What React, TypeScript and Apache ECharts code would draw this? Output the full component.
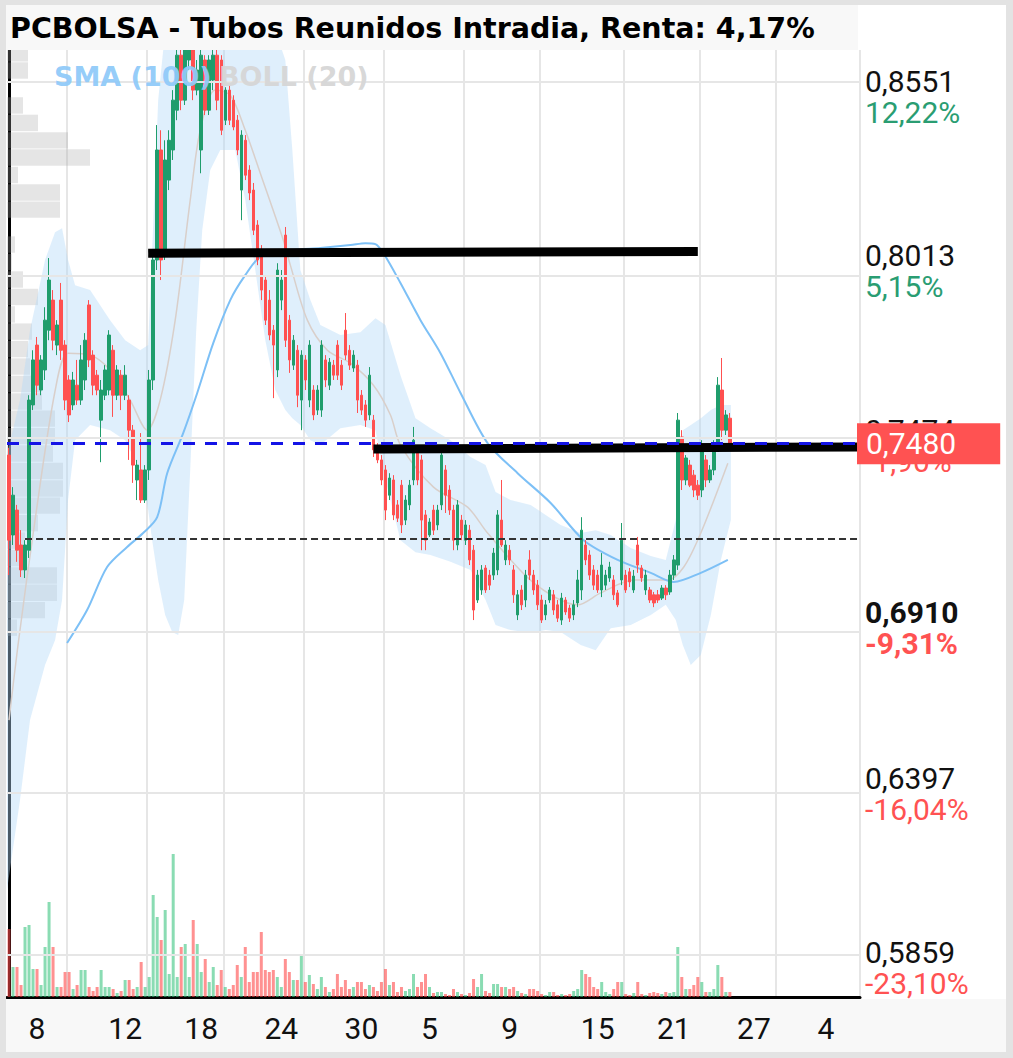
import React, { useEffect, useRef } from 'react';
import * as echarts from 'echarts';

const TITLE = 'PCBOLSA - Tubos Reunidos Intradia, Renta: 4,17%';
const LEGEND_SMA = 'SMA (100)';
const LEGEND_BOLL = 'BOLL (20)';

const SLOT_COUNT = 213;
const xLabels = ['8', '12', '18', '24', '30', '5', '9', '15', '21', '27', '4'];
const xLabelIdx = [7, 29, 48, 68, 88, 105, 125, 147, 166, 186, 204];
const xGridIdx = [15, 35, 54, 74, 94, 114, 133, 154, 173, 192];

const opens = [
  0.7445, 0.7198, 0.7275, 0.7167, 0.7090, 0.7151, 0.7600, 0.7785, 0.7646, 0.7708,
  0.7831, 0.7924, 0.7785, 0.7924, 0.7785, 0.7677, 0.7600, 0.7661, 0.7615, 0.7677,
  0.7909, 0.7754, 0.7692, 0.7553, 0.7630, 0.7646, 0.7769, 0.7630, 0.7692, 0.7630,
  0.7615, 0.7522, 0.7368, 0.7399, 0.7306, 0.7399, 0.7677, 0.8048, 0.8388, 0.8078,
  0.8295, 0.8388, 0.8511, 0.8681, 0.8542, 0.8666, 0.8697, 0.8573, 0.8388, 0.8666,
  0.8511, 0.8604, 0.8681, 0.8666, 0.8480, 0.8573, 0.8542, 0.8480, 0.8264, 0.8418,
  0.8326, 0.8264, 0.8156, 0.8078, 0.7986, 0.7924, 0.7831, 0.7708, 0.7924, 0.8125,
  0.7862, 0.7723, 0.7769, 0.7615, 0.7739, 0.7615, 0.7646, 0.7584, 0.7584, 0.7739,
  0.7661, 0.7723, 0.7785, 0.7723, 0.7831, 0.7769, 0.7714, 0.7723, 0.7630, 0.7600,
  0.7569, 0.7553, 0.7470, 0.7430, 0.7399, 0.7321, 0.7368, 0.7291, 0.7352, 0.7244,
  0.7291, 0.7368, 0.7461, 0.7430, 0.7260, 0.7198, 0.7275, 0.7229, 0.7291, 0.7399,
  0.7337, 0.7275, 0.7167, 0.7244, 0.7182, 0.7213, 0.7151, 0.6997, 0.7028, 0.7096,
  0.7074, 0.7074, 0.7090, 0.7244, 0.7121, 0.7151, 0.7090, 0.6951, 0.7028, 0.6997,
  0.7121, 0.7074, 0.7043, 0.6997, 0.6951, 0.6997, 0.7013, 0.6982, 0.6935, 0.6997,
  0.6972, 0.6951, 0.6988, 0.7028, 0.7167, 0.7136, 0.7090, 0.7074, 0.7028, 0.7043,
  0.7065, 0.7059, 0.7019, 0.7059, 0.7074, 0.7084, 0.7028, 0.7167, 0.7096, 0.7028,
  0.7028, 0.7013, 0.7013, 0.7003, 0.7034, 0.7022, 0.7074, 0.7105, 0.7501, 0.7368,
  0.7414, 0.7383, 0.7352, 0.7337, 0.7430, 0.7368, 0.7399, 0.7476, 0.7646, 0.7522,
  0.7559,
];
const closes = [
  0.7182, 0.7321, 0.7151, 0.7090, 0.7167, 0.7615, 0.7739, 0.7661, 0.7739, 0.7862,
  0.7986, 0.7800, 0.7847, 0.7769, 0.7615, 0.7569, 0.7677, 0.7615, 0.7739, 0.7800,
  0.7739, 0.7661, 0.7646, 0.7646, 0.7708, 0.7816, 0.7630, 0.7708, 0.7630, 0.7692,
  0.7522, 0.7414, 0.7414, 0.7306, 0.7399, 0.7677, 0.8048, 0.8388, 0.8048, 0.8357,
  0.8418, 0.8542, 0.8681, 0.8542, 0.8697, 0.8697, 0.8573, 0.8635, 0.8681, 0.8511,
  0.8666, 0.8681, 0.8542, 0.8449, 0.8573, 0.8480, 0.8459, 0.8388, 0.8434, 0.8310,
  0.8255, 0.8140, 0.8048, 0.7955, 0.7862, 0.7816, 0.7785, 0.8017, 0.7986, 0.7800,
  0.7739, 0.7800, 0.7630, 0.7754, 0.7677, 0.7785, 0.7569, 0.7646, 0.7785, 0.7677,
  0.7732, 0.7692, 0.7692, 0.7661, 0.7754, 0.7723, 0.7754, 0.7615, 0.7584, 0.7553,
  0.7692, 0.7461, 0.7430, 0.7368, 0.7275, 0.7374, 0.7260, 0.7250, 0.7229, 0.7306,
  0.7352, 0.7491, 0.7368, 0.7244, 0.7182, 0.7238, 0.7213, 0.7275, 0.7445, 0.7321,
  0.7275, 0.7182, 0.7291, 0.7198, 0.7229, 0.7121, 0.6966, 0.7074, 0.7090, 0.7028,
  0.7043, 0.7142, 0.7260, 0.7167, 0.7167, 0.7121, 0.7013, 0.7013, 0.6982, 0.7074,
  0.7074, 0.7028, 0.6982, 0.6935, 0.6982, 0.7028, 0.6966, 0.6941, 0.7003, 0.6960,
  0.6941, 0.6982, 0.7059, 0.7213, 0.7121, 0.7074, 0.7043, 0.7028, 0.7105, 0.7074,
  0.7099, 0.7013, 0.6982, 0.7182, 0.7028, 0.7053, 0.7071, 0.7105, 0.7065, 0.7074,
  0.6997, 0.6988, 0.6997, 0.7034, 0.7013, 0.7074, 0.7121, 0.7553, 0.7368, 0.7436,
  0.7352, 0.7337, 0.7321, 0.7461, 0.7368, 0.7399, 0.7476, 0.7661, 0.7522, 0.7569,
  0.7480,
];
const lows = [
  0.7074, 0.7167, 0.7115, 0.7068, 0.7065, 0.7127, 0.7584, 0.7630, 0.7630, 0.7677,
  0.7800, 0.7769, 0.7754, 0.7739, 0.7584, 0.7547, 0.7584, 0.7600, 0.7600, 0.7646,
  0.7717, 0.7630, 0.7630, 0.7423, 0.7615, 0.7630, 0.7563, 0.7615, 0.7584, 0.7615,
  0.7430, 0.7359, 0.7306, 0.7297, 0.7297, 0.7368, 0.7646, 0.8017, 0.7986, 0.8048,
  0.8264, 0.8357, 0.8480, 0.8511, 0.8527, 0.8635, 0.8542, 0.8557, 0.8316, 0.8496,
  0.8496, 0.8573, 0.8511, 0.8434, 0.8465, 0.8465, 0.8449, 0.8372, 0.8171, 0.8295,
  0.8233, 0.8125, 0.8032, 0.7924, 0.7847, 0.7800, 0.7621, 0.7686, 0.7893, 0.7779,
  0.7699, 0.7708, 0.7593, 0.7522, 0.7646, 0.7593, 0.7553, 0.7569, 0.7563, 0.7655,
  0.7646, 0.7677, 0.7677, 0.7646, 0.7739, 0.7708, 0.7702, 0.7575, 0.7569, 0.7532,
  0.7553, 0.7439, 0.7420, 0.7352, 0.7244, 0.7306, 0.7244, 0.7238, 0.7204, 0.7229,
  0.7275, 0.7352, 0.7352, 0.7151, 0.7151, 0.7192, 0.7198, 0.7213, 0.7275, 0.7266,
  0.7260, 0.7151, 0.7151, 0.7182, 0.7167, 0.7105, 0.6935, 0.6988, 0.7013, 0.7019,
  0.7028, 0.7059, 0.7074, 0.7161, 0.7105, 0.7105, 0.6988, 0.6935, 0.6966, 0.6975,
  0.7059, 0.7013, 0.6966, 0.6926, 0.6935, 0.6988, 0.6951, 0.6929, 0.6920, 0.6951,
  0.6929, 0.6935, 0.6975, 0.6997, 0.7105, 0.7059, 0.7028, 0.7019, 0.7006, 0.7028,
  0.7053, 0.6997, 0.6975, 0.7043, 0.7019, 0.7037, 0.7019, 0.7081, 0.7053, 0.7013,
  0.6988, 0.6975, 0.6988, 0.6997, 0.6997, 0.7013, 0.7059, 0.7090, 0.7337, 0.7352,
  0.7346, 0.7315, 0.7306, 0.7315, 0.7346, 0.7359, 0.7383, 0.7461, 0.7491, 0.7507,
  0.7476,
];
const highs = [
  0.7467, 0.7346, 0.7291, 0.7213, 0.7182, 0.7630, 0.7769, 0.7810, 0.7754, 0.7902,
  0.8054, 0.7955, 0.7862, 0.7977, 0.7800, 0.7692, 0.7702, 0.7739, 0.7785, 0.7822,
  0.7924, 0.7769, 0.7708, 0.7677, 0.7723, 0.7831, 0.7785, 0.7723, 0.7708, 0.7723,
  0.7630, 0.7538, 0.7430, 0.7513, 0.7414, 0.7708, 0.8078, 0.8465, 0.8449, 0.8418,
  0.8449, 0.8573, 0.8697, 0.8697, 0.8712, 0.8727, 0.8712, 0.8666, 0.8697, 0.8681,
  0.8681, 0.8712, 0.8697, 0.8681, 0.8582, 0.8588, 0.8557, 0.8496, 0.8449, 0.8434,
  0.8341, 0.8286, 0.8171, 0.8094, 0.8001, 0.7955, 0.7847, 0.8038, 0.8017, 0.8150,
  0.7878, 0.7816, 0.7785, 0.7769, 0.7754, 0.7800, 0.7661, 0.7661, 0.7800, 0.7754,
  0.7745, 0.7739, 0.7800, 0.7739, 0.7884, 0.7785, 0.7769, 0.7739, 0.7646, 0.7615,
  0.7717, 0.7569, 0.7482, 0.7445, 0.7414, 0.7389, 0.7383, 0.7306, 0.7368, 0.7321,
  0.7368, 0.7532, 0.7476, 0.7445, 0.7275, 0.7250, 0.7291, 0.7291, 0.7461, 0.7414,
  0.7352, 0.7291, 0.7306, 0.7260, 0.7244, 0.7229, 0.7167, 0.7090, 0.7105, 0.7105,
  0.7090, 0.7158, 0.7275, 0.7368, 0.7182, 0.7167, 0.7105, 0.7028, 0.7043, 0.7090,
  0.7151, 0.7090, 0.7059, 0.7013, 0.6997, 0.7037, 0.7028, 0.6997, 0.7019, 0.7006,
  0.6982, 0.6997, 0.7090, 0.7253, 0.7182, 0.7151, 0.7105, 0.7090, 0.7142, 0.7090,
  0.7115, 0.7074, 0.7028, 0.7235, 0.7090, 0.7096, 0.7090, 0.7192, 0.7105, 0.7090,
  0.7037, 0.7022, 0.7028, 0.7043, 0.7043, 0.7090, 0.7136, 0.7575, 0.7522, 0.7445,
  0.7430, 0.7399, 0.7368, 0.7491, 0.7445, 0.7414, 0.7491, 0.7686, 0.7745, 0.7584,
  0.7575,
];
const volumes = [
  68, 30, 30, 12, 70, 72, 28, 28, 12, 50, 95, 50, 10, 10, 25, 25, 8, 12, 27, 27,
  10, 6, 10, 27, 10, 10, 8, 4, 6, 17, 17, 8, 10, 35, 10, 20, 102, 80, 57, 87,
  23, 143, 20, 50, 53, 20, 77, 53, 25, 38, 15, 30, 12, 27, 10, 8, 12, 32, 20, 50,
  15, 25, 25, 65, 27, 25, 27, 20, 10, 38, 25, 17, 17, 42, 15, 22, 13, 8, 20, 10,
  5, 8, 23, 10, 17, 8, 10, 15, 15, 8, 12, 10, 6, 15, 28, 12, 15, 5, 10, 6,
  8, 23, 10, 15, 23, 10, 4, 5, 5, 3, 2, 8, 5, 3, 2, 4, 18, 10, 23, 6,
  4, 13, 13, 10, 10, 8, 10, 6, 4, 3, 8, 8, 6, 3, 2, 5, 5, 2, 3, 2,
  3, 6, 8, 27, 23, 20, 10, 8, 15, 5, 3, 8, 15, 15, 3, 2, 4, 15, 3, 2,
  4, 5, 4, 3, 5, 4, 5, 50, 20, 8, 8, 12, 20, 15, 5, 5, 8, 32, 20, 5,
  5,
];

const smaIdx = [14.5, 19.5, 24.5, 29.5, 33.5, 37, 39.5, 43.5, 47, 51, 55.25, 59, 62.75, 70.25, 77.75, 85.25, 89, 91.5, 93.5, 97.75, 102.75, 107.75, 112.75, 119.5, 127, 135.25, 143.5, 152, 160.25, 166, 172.75, 179.5];
const smaVal = [0.6864, 0.6966, 0.7099, 0.7161, 0.7204, 0.7253, 0.7389, 0.7513, 0.7637, 0.7791, 0.7924, 0.8001, 0.8057, 0.8078, 0.8085, 0.8094, 0.8100, 0.8097, 0.8069, 0.7977, 0.7862, 0.7760, 0.7637, 0.7482, 0.7389, 0.7297, 0.7182, 0.7121, 0.7081, 0.7053, 0.7081, 0.7121];

const midIdx = [0, 2.25, 6.5, 11.5, 14.75, 20.25, 25.25, 30.25, 34.5, 37.75, 41.5, 45.25, 47.75, 51.5, 55.25, 59, 62.75, 68.5, 70.25, 74.5, 79.5, 85.25, 91, 95.25, 97.75, 106, 114.5, 119.5, 131, 142, 147.75, 156, 164.5, 168.5, 172.75, 179.5];
const midVal = [0.6626, 0.6858, 0.7244, 0.7643, 0.7760, 0.7754, 0.7708, 0.7615, 0.7522, 0.7615, 0.7862, 0.8233, 0.8449, 0.8573, 0.8557, 0.8449, 0.8316, 0.8109, 0.8032, 0.7862, 0.7769, 0.7729, 0.7661, 0.7569, 0.7476, 0.7346, 0.7284, 0.7204, 0.7050, 0.6982, 0.7019, 0.7059, 0.7059, 0.7099, 0.7204, 0.7420];

const bandIdx = [-0.5, 2.75, 5.25, 9, 11.5, 13.25, 14.75, 16.5, 20.25, 25.25, 29, 32.75, 34.75, 35.75, 37.25, 39, 40.75, 42.25, 43.75, 45.25, 46.75, 48.25, 50.25, 52.75, 56.5, 59, 61.5, 64, 66.5, 69, 70.75, 72.75, 75.25, 77.75, 82.75, 87.75, 91.5, 94, 97.75, 101.5, 105.25, 110.25, 115.25, 119, 121.5, 125.25, 130.25, 134, 137.75, 142.75, 146.5, 150.25, 155.25, 160.25, 164, 166.5, 168.25, 170.25, 172.75, 175.25, 177.75, 180.25];
const bandUpper = [0.7445, 0.7615, 0.7831, 0.8048, 0.8134, 0.8146, 0.8048, 0.7970, 0.7955, 0.7862, 0.7800, 0.7769, 0.7785, 0.8078, 0.8542, 0.8758, 0.8758, 0.8758, 0.8758, 0.8758, 0.8758, 0.8758, 0.8758, 0.8758, 0.8758, 0.8758, 0.8758, 0.8758, 0.8758, 0.8666, 0.8388, 0.8017, 0.7924, 0.7847, 0.7816, 0.7825, 0.7868, 0.7847, 0.7692, 0.7559, 0.7528, 0.7491, 0.7439, 0.7414, 0.7331, 0.7306, 0.7291, 0.7260, 0.7229, 0.7204, 0.7213, 0.7198, 0.7158, 0.7133, 0.7121, 0.7244, 0.7522, 0.7538, 0.7559, 0.7584, 0.7600, 0.7600];
const bandLower = [0.6101, 0.6379, 0.6626, 0.6796, 0.6873, 0.6997, 0.7306, 0.7491, 0.7538, 0.7522, 0.7491, 0.7399, 0.7275, 0.7182, 0.7059, 0.6951, 0.6898, 0.6889, 0.6997, 0.7399, 0.7831, 0.8140, 0.8326, 0.8388, 0.8388, 0.8233, 0.8017, 0.7800, 0.7646, 0.7584, 0.7559, 0.7538, 0.7491, 0.7476, 0.7528, 0.7538, 0.7522, 0.7368, 0.7182, 0.7145, 0.7136, 0.7115, 0.7090, 0.6997, 0.6920, 0.6904, 0.6895, 0.6904, 0.6898, 0.6858, 0.6842, 0.6910, 0.6920, 0.6951, 0.6982, 0.6935, 0.6858, 0.6796, 0.6827, 0.6951, 0.7121, 0.7244];

const PROFILE_STEP = 0.00538;
const profileTop = [0.8712, 0.8659, 0.8605, 0.8551, 0.8497, 0.8443, 0.8390, 0.8336, 0.8282, 0.8229, 0.8175, 0.8121, 0.8067, 0.8013, 0.7959, 0.7905, 0.7852, 0.7798, 0.7744, 0.7690, 0.7636, 0.7583, 0.7529, 0.7475, 0.7421, 0.7367, 0.7314, 0.7260, 0.7206, 0.7152, 0.7098, 0.7045, 0.6991, 0.6937];
const profileVol = [21, 21, 0, 16, 31, 61, 83, 11, 53, 53, 0, 8, 5, 16, 31, 8, 25, 21, 23, 35, 35, 48, 48, 46, 56, 56, 53, 31, 18, 18, 50, 50, 38, 10];

const priceLevels = [0.8551, 0.8013, 0.7474, 0.6910, 0.6397, 0.5859];
const priceLevelText = ['0,8551', '0,8013', '0,7474', '0,6910', '0,6397', '0,5859'];
const pctText = ['12,22%', '5,15%', '-1,90%', '-9,31%', '-16,04%', '-23,10%'];
const BOLD_LEVEL = 0.6910;

const LAST_PRICE = 0.7480;
const LAST_PRICE_TEXT = '0,7480';
const REF_LEVEL = 0.7185;
const REF_START_IDX = 4;
const trendFrom = [[34.75, 0.8069], [91, 0.7464]];
const trendTo = [[172, 0.8074], [212.5, 0.7470]];

const GREEN = '#1f9d6c';
const RED = '#ff5050';
const FONT = 'Roboto';

const RICH = {
  p: { fontSize: 30, lineHeight: 31, fill: '#111', fontFamily: FONT },
  pb: { fontSize: 30, lineHeight: 31, fill: '#111', fontFamily: FONT, fontWeight: 'bold' },
  g: { fontSize: 30, lineHeight: 31, fill: '#2a9d72', fontFamily: FONT },
  r: { fontSize: 30, lineHeight: 31, fill: '#ff5252', fontFamily: FONT },
  rb: { fontSize: 30, lineHeight: 31, fill: '#ff5252', fontFamily: FONT, fontWeight: 'bold' },
};

function baseGraphics() {
  return [
    { id: 'titleBar', type: 'rect', shape: { x: 0, y: 0, width: 852, height: 45 }, style: { fill: '#f8f8f8' }, z: 100, silent: true },
    {
      id: 'title', type: 'text', x: 4, y: 23, z: 101, silent: true,
      style: { text: TITLE, fill: '#000', font: 'bold 28.5px "DejaVu Sans"', verticalAlign: 'middle' },
    },
    {
      id: 'legSma', type: 'text', x: 48, y: 71, z: 60, silent: true,
      style: { text: LEGEND_SMA, fill: 'rgba(144,202,249,0.95)', font: 'bold 27px "DejaVu Sans"', verticalAlign: 'middle' },
    },
    {
      id: 'legBoll', type: 'text', x: 213, y: 71, z: 60, silent: true,
      style: { text: LEGEND_BOLL, fill: 'rgba(214,214,214,0.95)', font: 'bold 27px "DejaVu Sans"', verticalAlign: 'middle' },
    },
  ];
}

function buildOption() {
  const categories = Array.from({ length: SLOT_COUNT }, (_, i) => {
    const k = xLabelIdx.indexOf(i);
    return k >= 0 ? xLabels[k] : '';
  });
  const candleData = opens.map((o, i) => [o, closes[i], lows[i], highs[i]]);
  const volData = volumes.map((v, i) => ({
    value: v,
    itemStyle: { color: closes[i] >= opens[i] ? 'rgba(60,196,128,0.6)' : 'rgba(255,72,72,0.6)' },
  }));

  return {
    animation: false,
    backgroundColor: 'transparent',
    grid: { left: 1, right: 146, top: 45, bottom: 55, outerBoundsMode: 'none', containLabel: false },
    xAxis: [
      {
        type: 'category',
        data: categories,
        boundaryGap: true,
        axisLine: { show: true, lineStyle: { color: '#000', width: 3 } },
        axisTick: { show: false },
        axisLabel: {
          show: true,
          interval: (idx: number) => xLabelIdx.indexOf(idx) >= 0,
          fontSize: 30,
          fontFamily: FONT,
          color: '#111',
          margin: 16,
          hideOverlap: false,
        },
        splitLine: {
          show: true,
          interval: (idx: number) => xGridIdx.indexOf(idx) >= 0,
          lineStyle: { color: '#e6e6e6', width: 2 },
        },
      },
      { type: 'value', min: -0.5, max: SLOT_COUNT - 0.5, show: false },
      { type: 'value', min: 0, max: 853, show: false },
    ],
    yAxis: [
      {
        type: 'value',
        position: 'right',
        min: 0.577,
        max: 0.8697,
        axisLine: { show: true, lineStyle: { color: '#000', width: 3 } },
        axisTick: { show: false },
        axisLabel: { show: false },
        splitLine: { show: false },
      },
      { type: 'value', min: 0, max: 947, show: false },
    ],
    graphic: baseGraphics(),
    series: [
      {
        name: 'profile',
        type: 'custom',
        xAxisIndex: 2,
        yAxisIndex: 0,
        z: 1,
        silent: true,
        data: profileTop.map((t, i) => [profileVol[i], t]),
        encode: { x: 0, y: 1 },
        renderItem: (params: any, api: any) => {
          const vol = api.value(0);
          const top = api.value(1);
          const a = api.coord([0, top]);
          const b = api.coord([vol, top - PROFILE_STEP]);
          return {
            type: 'rect',
            shape: { x: a[0], y: a[1], width: b[0] - a[0], height: Math.max(0, b[1] - a[1] - 1) },
            style: { fill: 'rgba(170,170,170,0.3)' },
          };
        },
      },
      {
        name: 'gridLines',
        type: 'line',
        xAxisIndex: 1,
        yAxisIndex: 0,
        z: 1,
        silent: true,
        data: [],
        markLine: {
          symbol: ['none', 'none'],
          silent: true,
          animation: false,
          lineStyle: { color: '#e6e6e6', width: 2, type: 'solid' },
          label: { show: false },
          data: priceLevels.map((v) => ({ yAxis: v })),
        },
      },
      {
        name: 'band',
        type: 'custom',
        xAxisIndex: 1,
        yAxisIndex: 0,
        z: 2,
        silent: true,
        data: [[0, 0]],
        renderItem: (params: any, api: any) => {
          const pts: number[][] = [];
          for (let i = 0; i < bandIdx.length; i++) pts.push(api.coord([bandIdx[i], bandUpper[i]]));
          for (let i = bandIdx.length - 1; i >= 0; i--) pts.push(api.coord([bandIdx[i], bandLower[i]]));
          const cs = params.coordSys;
          return {
            type: 'polygon',
            shape: { points: pts },
            style: { fill: 'rgba(179,218,248,0.42)' },
            clipPath: { type: 'rect', shape: { x: cs.x, y: cs.y, width: cs.width, height: cs.height } },
          };
        },
      },
      {
        name: 'volume',
        type: 'bar',
        xAxisIndex: 0,
        yAxisIndex: 1,
        barWidth: 3,
        z: 3,
        silent: true,
        data: volData,
      },
      {
        name: 'bollMid',
        type: 'line',
        xAxisIndex: 1,
        yAxisIndex: 0,
        symbol: 'none',
        smooth: 0.3,
        z: 3,
        silent: true,
        lineStyle: { color: '#d9cfca', width: 1.5 },
        data: midIdx.map((x, i) => [x, midVal[i]]),
      },
      {
        name: 'sma',
        type: 'line',
        xAxisIndex: 1,
        yAxisIndex: 0,
        symbol: 'none',
        smooth: 0.3,
        z: 3,
        silent: true,
        lineStyle: { color: '#7dc0f6', width: 2 },
        data: smaIdx.map((x, i) => [x, smaVal[i]]),
      },
      {
        name: 'price',
        type: 'candlestick',
        xAxisIndex: 0,
        yAxisIndex: 0,
        barWidth: 3,
        z: 4,
        silent: true,
        itemStyle: { color: GREEN, color0: RED, borderColor: GREEN, borderColor0: RED, borderWidth: 1 },
        data: candleData,
      },
      {
        name: 'drawings',
        type: 'line',
        xAxisIndex: 1,
        yAxisIndex: 0,
        z: 10,
        silent: true,
        data: [],
        markLine: {
          symbol: ['none', 'none'],
          silent: true,
          animation: false,
          label: { show: false },
          data: [
            [
              { coord: trendFrom[0], lineStyle: { color: '#000', width: 9, type: 'solid' } },
              { coord: trendTo[0] },
            ],
            [
              { coord: trendFrom[1], lineStyle: { color: '#000', width: 9, type: 'solid' } },
              { coord: trendTo[1] },
            ],
            [
              { coord: [REF_START_IDX, REF_LEVEL], lineStyle: { color: '#333', width: 2, type: [7, 4] } },
              { coord: [SLOT_COUNT - 0.5, REF_LEVEL] },
            ],
            [
              {
                coord: [-0.5, LAST_PRICE],
                lineStyle: { color: '#1414e6', width: 3, type: [12, 10] },
                label: {
                  show: true,
                  position: 'end',
                  distance: -3,
                  formatter: LAST_PRICE_TEXT,
                  backgroundColor: '#ff5252',
                  color: '#fff',
                  fontSize: 30,
                  fontFamily: FONT,
                  lineHeight: 31,
                  padding: [5, 44, 5, 9],
                },
              },
              { coord: [SLOT_COUNT - 0.5, LAST_PRICE] },
            ],
          ],
        },
      },
    ],
  };
}

export default function App() {
  const ref = useRef<HTMLDivElement>(null);
  useEffect(() => {
    if (!ref.current) return;
    const chart = echarts.init(ref.current, null, { renderer: 'svg' });
    chart.setOption(buildOption() as any);
    const grid = (chart as any).getModel().getComponent('grid', 0).coordinateSystem.getRect();
    const labelX = grid.x + grid.width + 5;
    const levelTexts = priceLevels.map((v, i) => {
      const y = chart.convertToPixel({ yAxisIndex: 0 }, v) as number;
      const bold = v === BOLD_LEVEL;
      const up = pctText[i].charAt(0) !== '-';
      const pKey = bold ? 'pb' : 'p';
      const cKey = up ? 'g' : bold ? 'rb' : 'r';
      return {
        id: 'lvl' + i,
        type: 'text',
        x: labelX,
        y,
        z: 5,
        silent: true,
        style: {
          text: `{${pKey}|${priceLevelText[i]}}\n{${cKey}|${pctText[i]}}`,
          rich: RICH,
          verticalAlign: 'middle',
          align: 'left',
        },
      };
    });
    chart.setOption({ graphic: [...baseGraphics(), ...levelTexts] } as any);
    return () => chart.dispose();
  }, []);
  return (
    <div style={{ position: 'fixed', left: 0, top: 0, width: 1013, height: 1058, background: '#e3e3e3' }}>
      <div
        ref={ref}
        style={{
          position: 'absolute',
          left: 6,
          top: 5,
          width: 1000,
          height: 1047,
          background: 'linear-gradient(#ffffff 0px, #ffffff 994px, #f8f8f8 994px)',
        }}
      />
    </div>
  );
}
